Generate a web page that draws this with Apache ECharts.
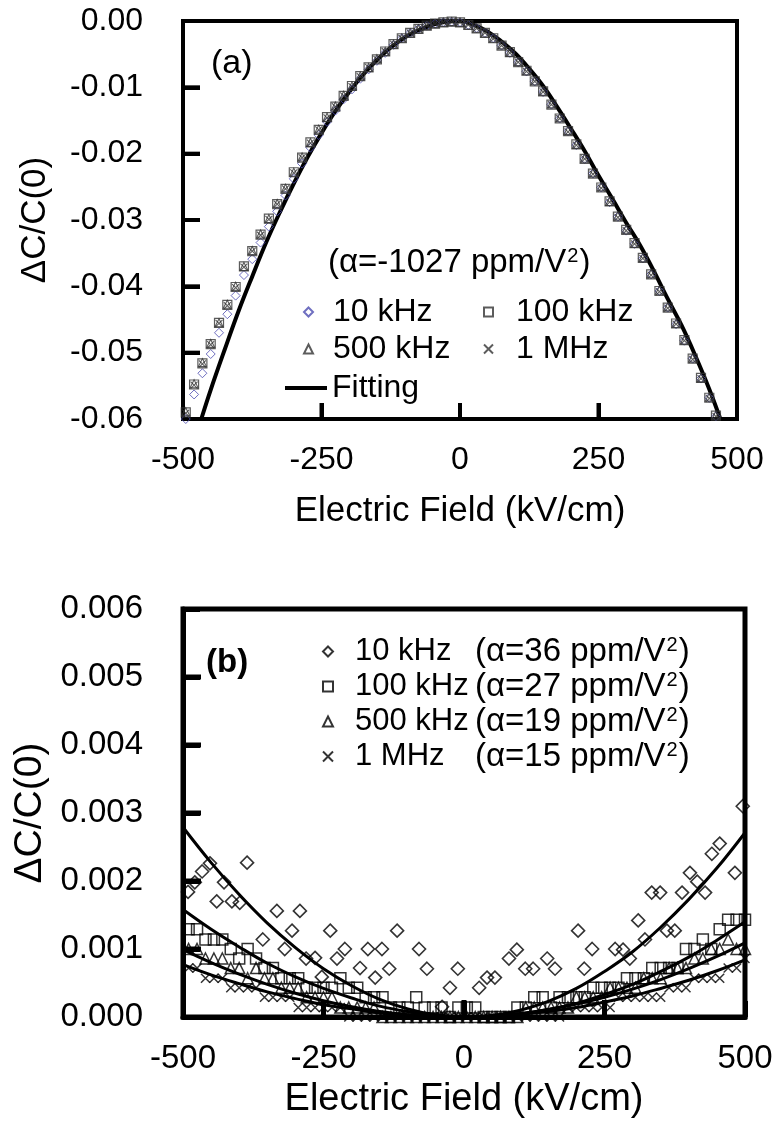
<!DOCTYPE html>
<html>
<head>
<meta charset="utf-8">
<script src="https://cdn.jsdelivr.net/npm/echarts@6/dist/echarts.min.js"></script>
<style>
  html, body { margin: 0; padding: 0; background: #ffffff; }
  #chart { width: 778px; height: 1130px; }
</style>
</head>
<body>
<div id="chart"></div>
<script>
// ---------- Panel (a): negative tunability, field sweep ----------
const fieldA = [-495,-480,-465,-450,-435,-420,-405,-390,-375,-360,-345,-330,-315,-300,-285,-270,-255,-240,-225,-210,-195,-180,-165,-150,-135,-120,-105,-90,-75,-60,-45,-30,-15,
  0,15,30,45,60,75,90,105,120,135,150,165,180,195,210,225,240,255,270,285,300,315,330,345,360,375,390,405,420,435,450,462];

const a10k = [-0.0600,-0.0563,-0.0531,-0.0502,-0.0470,-0.0442,-0.0414,-0.0383,-0.0359,-0.0334,-0.0310,-0.0287,-0.0263,-0.0238,-0.0215,-0.0191,-0.0172,-0.0152,-0.0135,-0.0118,-0.0103,-0.0087,-0.0073,-0.0060,-0.0048,-0.0036,-0.0026,-0.0018,-0.0012,-0.0007,-0.0004,-0.0002,-0.0001,
  -0.0002,-0.0006,-0.0011,-0.0018,-0.0026,-0.0037,-0.0048,-0.0062,-0.0076,-0.0091,-0.0107,-0.0126,-0.0147,-0.0166,-0.0187,-0.0208,-0.0230,-0.0251,-0.0273,-0.0295,-0.0316,-0.0336,-0.0358,-0.0382,-0.0407,-0.0432,-0.0457,-0.0482,-0.0509,-0.0539,-0.0568,-0.0596];

const a100k = [-0.0590,-0.0548,-0.0516,-0.0487,-0.0455,-0.0428,-0.0401,-0.0370,-0.0347,-0.0322,-0.0298,-0.0276,-0.0253,-0.0228,-0.0206,-0.0183,-0.0164,-0.0145,-0.0129,-0.0113,-0.0098,-0.0083,-0.0070,-0.0058,-0.0046,-0.0035,-0.0026,-0.0018,-0.0012,-0.0007,-0.0004,-0.0002,-0.0001,
  -0.0002,-0.0006,-0.0011,-0.0018,-0.0026,-0.0037,-0.0047,-0.0062,-0.0075,-0.0091,-0.0106,-0.0126,-0.0147,-0.0166,-0.0186,-0.0208,-0.0230,-0.0251,-0.0272,-0.0295,-0.0315,-0.0335,-0.0357,-0.0382,-0.0407,-0.0432,-0.0456,-0.0481,-0.0509,-0.0538,-0.0568,-0.0595];

const a500k = [-0.0589,-0.0547,-0.0515,-0.0486,-0.0455,-0.0427,-0.0400,-0.0370,-0.0346,-0.0321,-0.0298,-0.0275,-0.0252,-0.0228,-0.0205,-0.0183,-0.0163,-0.0145,-0.0128,-0.0112,-0.0098,-0.0083,-0.0070,-0.0057,-0.0046,-0.0035,-0.0026,-0.0018,-0.0012,-0.0007,-0.0004,-0.0002,-0.0001,
  -0.0002,-0.0006,-0.0011,-0.0018,-0.0026,-0.0036,-0.0047,-0.0061,-0.0075,-0.0090,-0.0106,-0.0125,-0.0146,-0.0165,-0.0186,-0.0207,-0.0229,-0.0250,-0.0272,-0.0294,-0.0314,-0.0335,-0.0357,-0.0381,-0.0406,-0.0431,-0.0456,-0.0481,-0.0508,-0.0538,-0.0567,-0.0594];

const a1M = [-0.0591,-0.0549,-0.0517,-0.0488,-0.0456,-0.0429,-0.0402,-0.0371,-0.0347,-0.0323,-0.0299,-0.0276,-0.0253,-0.0229,-0.0206,-0.0184,-0.0164,-0.0146,-0.0129,-0.0113,-0.0099,-0.0084,-0.0070,-0.0058,-0.0046,-0.0035,-0.0026,-0.0018,-0.0012,-0.0007,-0.0004,-0.0002,-0.0001,
  -0.0002,-0.0006,-0.0011,-0.0018,-0.0027,-0.0037,-0.0048,-0.0062,-0.0076,-0.0091,-0.0107,-0.0126,-0.0147,-0.0167,-0.0187,-0.0208,-0.0231,-0.0252,-0.0273,-0.0296,-0.0316,-0.0336,-0.0358,-0.0383,-0.0408,-0.0433,-0.0457,-0.0482,-0.0510,-0.0539,-0.0569,-0.0596];

// fitted curve of panel (a)
const fitFieldA = [-467,-450,-425,-400,-375,-350,-325,-300,-275,-250,-225,-200,-175,-150,-125,-100,-75,-50,-25,0,
  25,50,75,100,125,150,175,200,225,250,275,300,325,350,375,400,425,450,470];
const fitA = [-0.0600,-0.0556,-0.0496,-0.0438,-0.0385,-0.0334,-0.0288,-0.0245,-0.0205,-0.0169,-0.0136,-0.0107,-0.0081,-0.0059,-0.0040,-0.0025,-0.0014,-0.0006,-0.0001,0.0000,
  -0.0006,-0.0016,-0.0031,-0.0049,-0.0072,-0.0098,-0.0129,-0.0162,-0.0196,-0.0233,-0.0268,-0.0304,-0.0338,-0.0377,-0.0419,-0.0459,-0.0505,-0.0555,-0.0600];

const ticksA = { xMin: -500, xMax: 500, xStep: 250, yMin: -0.06, yMax: 0, yStep: 0.01 };

// ---------- Panel (b): positive tunability ----------
const field10kB = [-491,-479,-466,-452,-440,-427,-413,-399,-386,-358,-333,-319,-306,-292,-281,-265,-253,-238,-226,-212,-185,-171,-158,-146,-133,-119,-80,-66,-39,-25,-11,
  27,41,55,80,94,109,123,148,162,203,214,228,269,283,295,310,322,334,349,361,375,388,402,415,429,441,455,482,496];
const b10k = [0.00184,0.00198,0.00214,0.00226,0.00170,0.00198,0.00170,0.00168,0.00227,0.00114,0.00156,0.00100,0.00127,0.00156,0.00086,0.00087,0.00059,0.00127,0.00086,0.00100,0.00072,0.00100,0.00058,0.00100,0.00071,0.00127,0.00100,0.00071,0.00015,0.00043,0.00071,
  0.00043,0.00058,0.00058,0.00086,0.00099,0.00071,0.00071,0.00086,0.00071,0.00127,0.00071,0.00100,0.00100,0.00099,0.00086,0.00142,0.00114,0.00183,0.00183,0.00127,0.00127,0.00183,0.00212,0.00199,0.00183,0.00240,0.00255,0.00212,0.00310];

const fieldB = [-490,-475,-460,-445,-430,-415,-400,-385,-370,-355,-340,-325,-310,-295,-280,-265,-250,-235,-220,-205,-190,-175,-160,-145,-130,-115,-100,-85,-70,-55,-40,-25,
  -10,5,20,35,50,65,80,95,110,125,140,155,170,185,200,215,230,245,260,275,290,305,320,335,350,365,380,395,410,425,440,455,470,485,500];

const b100k = [0.00129,0.00129,0.00114,0.00114,0.00114,0.00100,0.00086,0.00100,0.00086,0.00072,0.00072,0.00057,0.00057,0.00057,0.00043,0.00043,0.00043,0.00043,0.00057,0.00043,0.00043,0.00029,0.00029,0.00029,0.00014,0.00014,0.00014,0.00029,0.00014,0.00014,0.00014,0,
  0.00014,0.00014,0.00014,0,0,0,0,0.00014,0.00014,0.00029,0.00029,0.00014,0.00029,0.00029,0.00029,0.00029,0.00043,0.00043,0.00043,0.00043,0.00057,0.00057,0.00057,0.00072,0.00072,0.00072,0.00072,0.00100,0.00100,0.00114,0.00100,0.00129,0.00143,0.00143,0.00143];

const b500k = [0.00100,0.00100,0.00086,0.00086,0.00086,0.00072,0.00072,0.00057,0.00072,0.00057,0.00057,0.00043,0.00043,0.00043,0.00029,0.00029,0.00029,0.00029,0.00014,0.00014,0.00014,0.00014,0.00014,
  0,0,0,0,0,0,0,0,0,0,0,0,0,0,0,0,0,
  0.00014,0.00014,0.00014,0.00014,0.00014,0.00014,0.00029,0.00029,0.00029,0.00029,0.00043,0.00043,0.00043,0.00043,0.00057,0.00057,0.00057,0.00072,0.00072,0.00072,0.00086,0.00086,0.00100,0.00100,0.00114,0.00100,0.00100];

const b1M = [0.00072,0.00072,0.00057,0.00057,0.00057,0.00043,0.00043,0.00043,0.00043,0.00029,0.00029,0.00029,0.00029,0.00014,0.00014,0.00014,0.00014,0.00014,0.00014,
  0,0,0,0,0,0,0,0,0,0,0,0,0,0,0,0,0,0,0,0,0,0,0,0,0,0,
  0.00014,0.00014,0.00014,0.00014,0.00014,0.00014,0.00029,0.00029,0.00029,0.00029,0.00029,0.00029,0.00043,0.00043,0.00043,0.00057,0.00057,0.00057,0.00057,0.00072,0.00072,0.00086];

// fitted parabolas of panel (b)
const fitFieldB = [-500,-450,-400,-350,-300,-250,-200,-150,-100,-50,0,50,100,150,200,250,300,350,400,450,500];
const fit10kB  = [0.00279,0.00227,0.00180,0.00138,0.00102,0.00071,0.00046,0.00026,0.00012,0.00003,0.00000,0.00002,0.00010,0.00023,0.00042,0.00067,0.00096,0.00132,0.00173,0.00219,0.00271];
const fit100kB = [0.00158,0.00129,0.00103,0.00079,0.00059,0.00042,0.00028,0.00016,0.00008,0.00003,0.00000,0.00001,0.00004,0.00011,0.00020,0.00033,0.00048,0.00067,0.00088,0.00113,0.00140];
const fit500kB = [0.00099,0.00080,0.00063,0.00048,0.00035,0.00024,0.00015,0.00008,0.00003,0.00001,0.00000,0.00002,0.00005,0.00011,0.00019,0.00029,0.00041,0.00055,0.00071,0.00089,0.00109];
const fit1MB   = [0.00077,0.00062,0.00049,0.00037,0.00027,0.00018,0.00012,0.00006,0.00003,0.00001,0.00000,0.00001,0.00004,0.00008,0.00014,0.00022,0.00031,0.00042,0.00054,0.00068,0.00084];

const ticksB = { xMin: -500, xMax: 500, xStep: 250, yMin: 0, yMax: 0.006, yStep: 0.001 };

const freqLabels = ['10 kHz', '100 kHz', '500 kHz', '1 MHz'];
const alphaValuesB = ['36', '27', '19', '15'];
const alphaValueA = '-1027';

// ---------- helpers ----------
const FONT = 'Liberation Sans, Arial, Helvetica, sans-serif';
const zip = (xs, ys) => xs.map((x, i) => [x, ys[i]]);
const CROSS = 'path://M0,0L10,10M10,0L0,10';

function markerStyle(color, width) {
  return { color: 'rgba(0,0,0,0)', borderColor: color, borderWidth: width };
}

function scatter(name, grid, xs, ys, symbol, size, color, width) {
  return {
    name, type: 'scatter', xAxisIndex: grid, yAxisIndex: grid,
    data: zip(xs, ys), symbol, symbolSize: size,
    itemStyle: markerStyle(color, width), z: 3
  };
}

function fitLine(name, grid, xs, ys, width) {
  return {
    name, type: 'line', xAxisIndex: grid, yAxisIndex: grid,
    data: zip(xs, ys), showSymbol: false, symbol: 'none', smooth: 0.4,
    color: '#000', itemStyle: { color: '#000' },
    lineStyle: { color: '#000', width }, z: 2
  };
}

// interior tick values of an axis (the end values lie on the frame)
function innerValues(lo, hi, step) {
  const out = [];
  const n = Math.round((hi - lo) / step);
  for (let k = 1; k < n; k++) out.push(+(lo + k * step).toFixed(6));
  return out;
}

// Inward tick marks along the left and bottom frame edges, drawn as a
// custom series so they are positioned by the panel's own scales.
function tickSeries(grid, t, lenY, lenX, width) {
  const data = innerValues(t.yMin, t.yMax, t.yStep).map(v => [t.xMin, v, 0])
    .concat(innerValues(t.xMin, t.xMax, t.xStep).map(v => [v, t.yMin, 1]));
  return {
    type: 'custom', xAxisIndex: grid, yAxisIndex: grid, data, z: 8, silent: true,
    clip: false, legendHoverLink: false,
    encode: { x: 0, y: 1 },
    renderItem: (params, api) => {
      const p = api.coord([api.value(0), api.value(1)]);
      const vertical = api.value(2) === 1;
      return {
        type: 'line',
        shape: vertical
          ? { x1: p[0], y1: p[1], x2: p[0], y2: p[1] - lenX }
          : { x1: p[0], y1: p[1], x2: p[0] + lenY, y2: p[1] },
        style: { stroke: '#000', lineWidth: width, fill: null }
      };
    }
  };
}

function xAxis(grid, t, fontSize, nameSize, nameGap, lineW) {
  return {
    type: 'value', gridIndex: grid, position: 'bottom',
    min: t.xMin, max: t.xMax, interval: t.xStep,
    axisLine: { show: true, onZero: false, lineStyle: { color: '#000', width: lineW } },
    axisTick: { show: true, inside: true, length: 16, lineStyle: { color: '#000', width: lineW } },
    axisLabel: { show: true, color: '#000', fontSize, fontFamily: FONT, margin: 25 },
    splitLine: { show: false },
    name: 'Electric Field (kV/cm)', nameLocation: 'middle', nameGap,
    nameTextStyle: { color: '#000', fontSize: nameSize, fontFamily: FONT }
  };
}

function yAxis(grid, t, fontSize, nameSize, nameGap, digits, lineW) {
  return {
    type: 'value', gridIndex: grid, position: 'left',
    min: t.yMin, max: t.yMax, interval: t.yStep,
    axisLine: { show: true, onZero: false, lineStyle: { color: '#000', width: lineW } },
    axisTick: { show: true, inside: true, length: 17, lineStyle: { color: '#000', width: lineW } },
    axisLabel: {
      show: true, color: '#000', fontSize, fontFamily: FONT, margin: 40,
      formatter: v => (Math.abs(v) < 1e-12 ? 0 : v).toFixed(digits)
    },
    splitLine: { show: false },
    name: '\u0394C/C(0)', nameLocation: 'middle', nameRotate: 90, nameGap,
    nameTextStyle: { color: '#000', fontSize: nameSize, fontFamily: FONT }
  };
}

// rich-text styles: regular text and a raised, smaller "2" for V²
function richStyles(size, fSize) {
  return {
    t: { fontSize: size, fontFamily: FONT, color: '#000', lineHeight: size },
    f: { fontSize: fSize || size, fontFamily: FONT, color: '#000', lineHeight: size, width: 120 },
    s: { fontSize: Math.round(size * 0.62), fontFamily: FONT, color: '#000', lineHeight: size, verticalAlign: 'top', padding: [0, 1, 0, 1] }
  };
}
const alphaRich = v => '{t|(\u03B1=' + v + ' ppm/V}{s|2}{t|)}';

const chart = echarts.init(document.getElementById('chart'), null, { renderer: 'canvas' });

const legendTextA = { color: '#000', fontSize: 32, fontFamily: FONT, lineHeight: 32 };

chart.setOption({
  animation: false,
  backgroundColor: '#ffffff',
  grid: [
    { left: 183, top: 21, width: 554, height: 398, show: true, borderColor: '#000', borderWidth: 4,
      backgroundColor: 'rgba(0,0,0,0)', containLabel: false, outerBoundsMode: 'none' },
    { left: 183, top: 609, width: 562, height: 408, show: true, borderColor: '#000', borderWidth: 5,
      backgroundColor: 'rgba(0,0,0,0)', containLabel: false, outerBoundsMode: 'none' }
  ],
  xAxis: [
    xAxis(0, ticksA, 32, 35, 75, 4),
    xAxis(1, ticksB, 33, 38, 64, 5)
  ],
  yAxis: [
    yAxis(0, ticksA, 32, 35, 130, 2, 4),
    yAxis(1, ticksB, 33, 39, 128, 3, 5)
  ],
  legend: [
    { data: ['a:' + freqLabels[0], 'a:' + freqLabels[2]], orient: 'vertical', left: 303, top: 296,
      padding: 0, itemGap: 5, itemWidth: 9, itemHeight: 9, selectedMode: false,
      formatter: n => n.slice(2), textStyle: Object.assign({ padding: [0, 0, 0, 15] }, legendTextA) },
    { data: ['a:' + freqLabels[1], 'a:' + freqLabels[3]], orient: 'vertical', left: 483, top: 296,
      padding: 0, itemGap: 5, itemWidth: 9, itemHeight: 9, selectedMode: false,
      formatter: n => n.slice(2), textStyle: Object.assign({ padding: [0, 0, 0, 18] }, legendTextA) },
    { data: [{ name: 'a:Fitting', icon: 'rect' }], orient: 'vertical', left: 285, top: 372,
      padding: 0, itemWidth: 42, itemHeight: 4, selectedMode: false,
      formatter: n => n.slice(2), textStyle: Object.assign({ padding: [0, 0, 0, 0] }, legendTextA) },
    { data: freqLabels.map(f => 'b:' + f), orient: 'vertical', left: 322, top: 635,
      padding: 0, itemGap: 2, itemWidth: 10, itemHeight: 10, selectedMode: false,
      formatter: n => {
        const i = freqLabels.indexOf(n.slice(2));
        return '{f|' + freqLabels[i] + '}' + alphaRich(alphaValuesB[i]);
      },
      textStyle: { color: '#000', fontSize: 32, fontFamily: FONT, lineHeight: 32,
        padding: [0, 0, 0, 17], rich: richStyles(33, 31) } }
  ],
  graphic: [
    { id: 'labelA', type: 'text', x: 211, y: 64, z: 10,
      style: { text: '(a)', fontSize: 34, fontFamily: FONT, fill: '#000', verticalAlign: 'middle' } },
    { id: 'alphaA', type: 'text', x: 328, y: 263, z: 10,
      style: { text: alphaRich(alphaValueA), rich: richStyles(33), fontSize: 33, fontFamily: FONT, fill: '#000', verticalAlign: 'middle' } },
    { id: 'labelB', type: 'text', x: 206, y: 663, z: 10,
      style: { text: '(b)', fontSize: 33, fontWeight: 'bold', fontFamily: FONT, fill: '#000', verticalAlign: 'middle' } }
  ],
  series: [
    fitLine('a:Fitting', 0, fitFieldA, fitA, 4),
    scatter('a:' + freqLabels[0], 0, fieldA, a10k, 'diamond', 9, '#4b4bb0', 1),
    scatter('a:' + freqLabels[1], 0, fieldA, a100k, 'rect', 9, '#333', 1.2),
    scatter('a:' + freqLabels[2], 0, fieldA, a500k, 'triangle', 8, '#333', 1.1),
    scatter('a:' + freqLabels[3], 0, fieldA, a1M, CROSS, 7, '#333', 1.1),
    tickSeries(0, ticksA, 17, 16, 4),

    fitLine('fit10kB', 1, fitFieldB, fit10kB, 3),
    fitLine('fit100kB', 1, fitFieldB, fit100kB, 3),
    fitLine('fit500kB', 1, fitFieldB, fit500kB, 3),
    fitLine('fit1MB', 1, fitFieldB, fit1MB, 3),
    scatter('b:' + freqLabels[0], 1, field10kB, b10k, 'diamond', 13, '#000', 1.6),
    scatter('b:' + freqLabels[1], 1, fieldB, b100k, 'rect', 11, '#000', 1.5),
    scatter('b:' + freqLabels[2], 1, fieldB, b500k, 'triangle', 11, '#000', 1.5),
    scatter('b:' + freqLabels[3], 1, fieldB, b1M, CROSS, 9, '#000', 1.5),
    tickSeries(1, ticksB, 18, 17, 5)
  ]
});
</script>
</body>
</html>
